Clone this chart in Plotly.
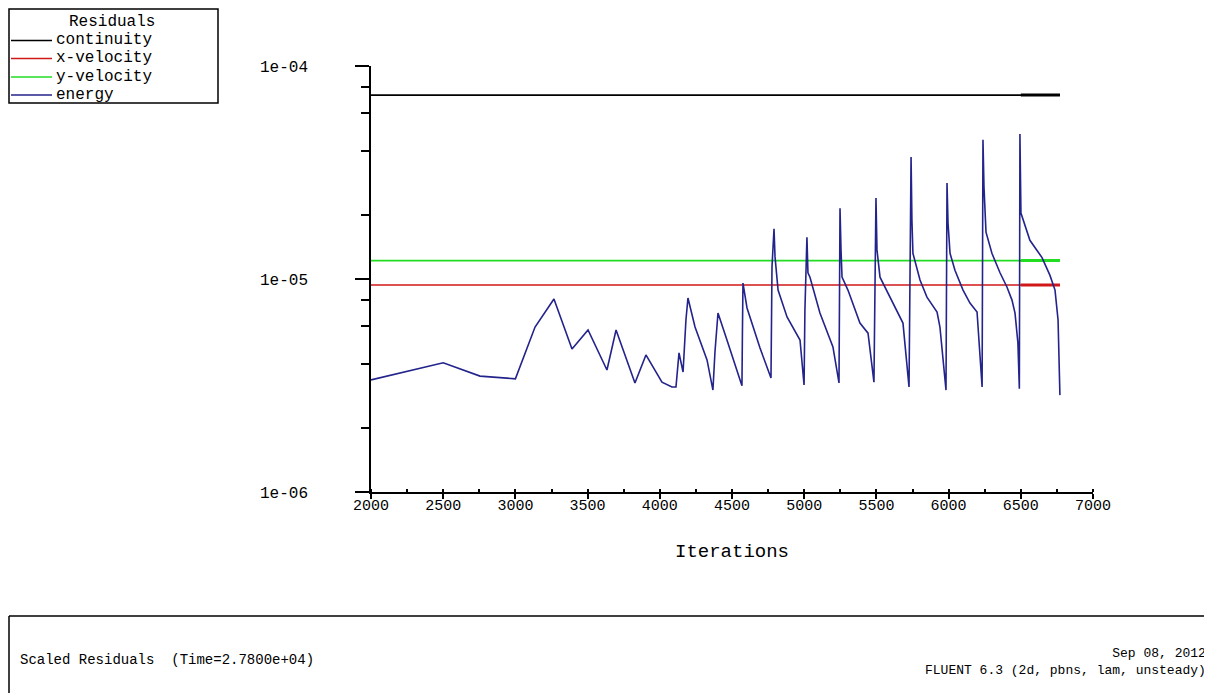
import plotly.graph_objects as go

# ---------------- data ----------------
iter_span = [2000, 6771]
iter_dense = [6500, 6771]          # densely written tail (drawn thicker)
continuity = [7.3e-5, 7.3e-5]
x_velocity = [9.37e-6, 9.37e-6]
y_velocity = [1.22e-5, 1.22e-5]

energy_iter = [
    2000, 2500, 2755, 2845, 3000, 3136, 3170, 3267, 3392, 3503,
    3634, 3697, 3828, 3904, 4015, 4084, 4112, 4133, 4161, 4181,
    4195, 4244, 4327, 4368, 4382, 4403, 4465, 4569, 4572, 4576,
    4604, 4694, 4770, 4773, 4777, 4791, 4798, 4819, 4881, 4971,
    4999, 5005, 5019, 5026, 5040, 5109, 5199, 5241, 5248, 5255,
    5262, 5303, 5386, 5442, 5483, 5497, 5504, 5525, 5559, 5643,
    5684, 5726, 5740, 5746, 5753, 5802, 5850, 5920, 5940, 5982,
    5989, 5996, 6010, 6044, 6100, 6148, 6197, 6232, 6238, 6245,
    6259, 6300, 6356, 6404, 6439, 6460, 6480, 6490, 6494, 6501,
    6563, 6647, 6702, 6737, 6758, 6771,
]
energy = [
    3.36e-6, 4.04e-6, 3.50e-6, 3.47e-6, 3.40e-6, 5.95e-6, 6.42e-6, 8.05e-6, 4.69e-6, 5.76e-6,
    3.74e-6, 5.76e-6, 3.25e-6, 4.40e-6, 3.28e-6, 3.11e-6, 3.11e-6, 4.50e-6, 3.66e-6, 6.42e-6,
    8.14e-6, 5.95e-6, 4.17e-6, 3.01e-6, 4.54e-6, 6.92e-6, 5.17e-6, 3.15e-6, 5.46e-6, 9.57e-6,
    7.31e-6, 4.74e-6, 3.43e-6, 5.06e-6, 1.14e-5, 1.72e-5, 1.27e-5, 8.87e-6, 6.64e-6, 5.17e-6,
    3.18e-6, 7.15e-6, 1.57e-5, 1.07e-5, 1.02e-5, 6.92e-6, 4.80e-6, 3.25e-6, 2.15e-5, 1.37e-5,
    1.02e-5, 8.87e-6, 6.21e-6, 5.57e-6, 3.28e-6, 2.40e-5, 1.37e-5, 1.02e-5, 9.17e-6, 7.15e-6,
    6.21e-6, 3.11e-6, 3.74e-5, 1.89e-5, 1.32e-5, 9.89e-6, 8.22e-6, 7.00e-6, 5.95e-6, 3.01e-6,
    2.82e-5, 1.83e-5, 1.32e-5, 1.10e-5, 8.87e-6, 7.71e-6, 7.00e-6, 3.11e-6, 4.50e-5, 2.70e-5,
    1.66e-5, 1.32e-5, 1.07e-5, 9.17e-6, 7.96e-6, 6.92e-6, 5.01e-6, 3.05e-6, 4.80e-5, 2.04e-5,
    1.52e-5, 1.26e-5, 1.04e-5, 8.87e-6, 6.42e-6, 2.85e-6,
]

series_names = ["continuity", "x-velocity", "y-velocity", "energy"]
series_colors = ["#000000", "#d01818", "#22dd22", "#23238c"]

x_tickvals = [2000, 2500, 3000, 3500, 4000, 4500, 5000, 5500, 6000, 6500, 7000]
y_tickvals = [1e-6, 1e-5, 1e-4]
y_ticktext = ["1e-06", "1e-05", "1e-04"]
y_minor = [2e-6, 4e-6, 6e-6, 8e-6, 2e-5, 4e-5, 6e-5, 8e-5]

legend_title = "Residuals"
footer_left = "Scaled Residuals\u00a0\u00a0(Time=2.7800e+04)"
footer_right = "Sep 08, 2012<br>FLUENT 6.3 (2d, pbns, lam, unsteady)"

# ---------------- geometry (page body has an 8px margin) ----------------
OFF = 8
W, H = 1212 - OFF, 693 - OFF
L, T = 371 - OFF, 66 - OFF
R = W - (1093 - OFF)
B = H - (492 - OFF)
PW, PH = W - L - R, H - T - B
FONT = "Liberation Mono"


def px(x):
    return (x - OFF - L) / PW


def py(y):
    return (H - B - (y - OFF)) / PH


fig = go.Figure()
flat = [continuity, x_velocity, y_velocity]
for name, col, vals in zip(series_names[:3], series_colors[:3], flat):
    fig.add_trace(go.Scatter(x=iter_span, y=vals, mode="lines", name=name,
                             line=dict(color=col, width=1.6), showlegend=False))
    fig.add_trace(go.Scatter(x=iter_dense, y=[vals[-1], vals[-1]], mode="lines",
                             line=dict(color=col, width=3), showlegend=False,
                             hoverinfo="skip"))
fig.add_trace(go.Scatter(x=energy_iter, y=energy, mode="lines", name="energy",
                         line=dict(color=series_colors[3], width=1.6),
                         showlegend=False))

# ---------------- manual legend ----------------
shapes = []
annotations = []
shapes.append(dict(type="rect", xref="paper", yref="paper",
                   x0=px(9), x1=px(218), y0=py(103), y1=py(9),
                   line=dict(color="black", width=1.5), fillcolor="white"))
annotations.append(dict(xref="paper", yref="paper", x=px(112), y=py(22),
                        text=legend_title, showarrow=False, xanchor="center",
                        yanchor="middle", borderpad=0,
                        font=dict(family=FONT, size=16, color="black")))
legend_y = [40.5, 58.5, 77, 95]
for name, col, ly in zip(series_names, series_colors, legend_y):
    shapes.append(dict(type="line", xref="paper", yref="paper",
                       x0=px(11), x1=px(52), y0=py(ly), y1=py(ly),
                       line=dict(color=col, width=1.6)))
    annotations.append(dict(xref="paper", yref="paper", x=px(55), y=py(ly),
                            text=name, showarrow=False, xanchor="left",
                            yanchor="middle", borderpad=0,
                            font=dict(family=FONT, size=16, color="black")))

# ---------------- footer box ----------------
shapes.append(dict(type="line", xref="paper", yref="paper",
                   x0=px(9), x1=px(1230), y0=py(616), y1=py(616),
                   line=dict(color="black", width=1.5)))
shapes.append(dict(type="line", xref="paper", yref="paper",
                   x0=px(9), x1=px(9), y0=py(616), y1=py(710),
                   line=dict(color="black", width=1.5)))
annotations.append(dict(xref="paper", yref="paper", x=px(18), y=py(660),
                        text=footer_left, showarrow=False, xanchor="left",
                        yanchor="middle", font=dict(family=FONT, size=14, color="black")))
annotations.append(dict(xref="paper", yref="paper", x=px(1207), y=py(662),
                        text=footer_right, showarrow=False, xanchor="right",
                        yanchor="middle", align="right", borderpad=0,
                        font=dict(family=FONT, size=13, color="black")))

fig.update_layout(
    width=W, height=H,
    margin=dict(l=L, r=R, t=T, b=B, pad=0),
    paper_bgcolor="white", plot_bgcolor="white",
    showlegend=False,
    shapes=shapes, annotations=annotations,
    font=dict(family=FONT, color="black"),
)
fig.update_xaxes(
    range=[2000, 7000], tickvals=x_tickvals, showgrid=False, zeroline=False,
    showline=True, linecolor="black", linewidth=1.6,
    ticks="outside", ticklen=5, tickwidth=1.5, tickcolor="black",
    ticklabelstandoff=-7,
    tickfont=dict(family=FONT, size=15, color="black"),
    minor=dict(dtick=250, ticks="inside", ticklen=3, tickcolor="black", showgrid=False),
    title=dict(text="Iterations", font=dict(family=FONT, size=19, color="black"), standoff=30),
)
fig.update_yaxes(
    type="log", range=[-6, -4], tickvals=y_tickvals, ticktext=y_ticktext,
    showgrid=False, zeroline=False,
    showline=True, linecolor="black", linewidth=1.6,
    ticks="outside", ticklen=14, tickwidth=1.5, tickcolor="black",
    ticklabelstandoff=44,
    tickfont=dict(family=FONT, size=16, color="black"),
    minor=dict(tickvals=y_minor, ticks="outside", ticklen=8, tickcolor="black", showgrid=False),
)

fig.write_html("out.html")
